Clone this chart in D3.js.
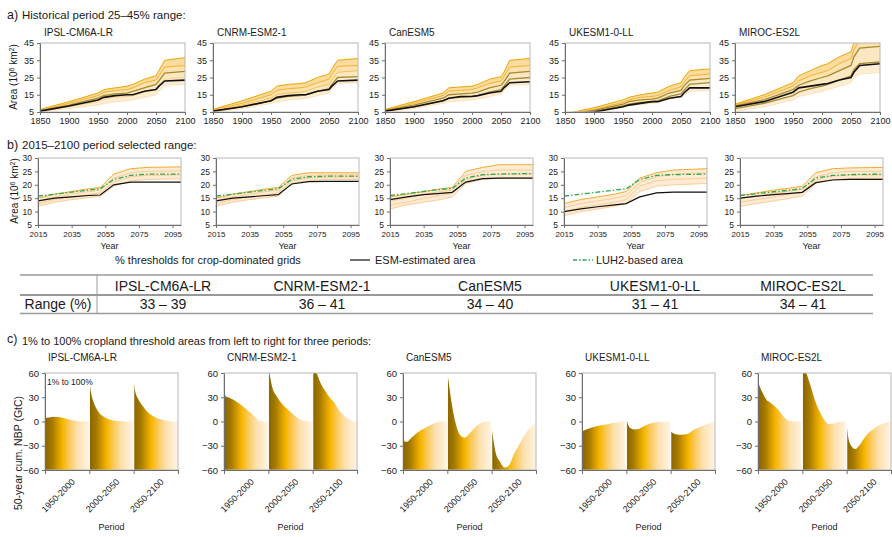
<!DOCTYPE html>
<html>
<head>
<meta charset="utf-8">
<script src="https://cdn.jsdelivr.net/npm/d3@7"></script>
<style>
body { margin: 0; background: #fff; }
text { font-family: "Liberation Sans", Arial, sans-serif; }
</style>
</head>
<body>
<svg id="chart" width="892" height="537"></svg>
<script>
var models = ["IPSL-CM6A-LR", "CNRM-ESM2-1", "CanESM5", "UKESM1-0-LL", "MIROC-ES2L"]
var rangeLabels = ["33 – 39", "36 – 41", "34 – 40", "31 – 41", "34 – 41"]
var selectedRanges = [[33, 39], [36, 41], [34, 40], [31, 41], [34, 41]]

// a) historical period, thresholds 25-45 %
var histYears = [1850, 1900, 1950, 1960, 1980, 2000, 2010, 2030, 2050, 2055, 2065, 2100]
var histYearTicks = [1850, 1900, 1950, 2000, 2050, 2100]
var histAreaTicks = [5, 15, 25, 35, 45]
var histThresholds = [25, 30, 35, 40, 45]
var histEsmArea = [
    [5.5, 8.5, 12, 13.5, 14.5, 15, 15, 17, 18, 20, 23, 23.5],
    [5.5, 8, 11.5, 13.5, 14.5, 15, 15, 17, 18, 20, 23, 23.5],
    [5.5, 8, 11.5, 13, 14, 14, 14.5, 16, 17, 19, 22, 22.5],
    [3, 5, 8, 9, 10, 11, 11, 13, 14, 16, 19, 19],
    [8, 11, 16.5, 19, 20, 21, 21.5, 23.5, 25, 28, 32, 33]
]
var histIpsl = [
    [6.5, 11, 16, 18, 19, 20, 21, 24, 26, 29, 35, 36.5],
    [6, 10, 14.5, 16.5, 17.5, 18, 19, 22, 23.5, 26, 31, 32],
    [5.8, 9, 13, 14.5, 15.5, 16, 17, 19, 21, 23, 27.5, 28.5],
    [5.5, 8, 11, 12.5, 13.5, 14, 14.5, 16.5, 18, 20, 24, 25],
    [5, 7, 9, 10, 11, 11.5, 12, 13.5, 15, 17, 20.5, 21]
]
var histCnrm = [
    [6.5, 11.5, 17, 20, 21, 21.5, 22, 25, 27, 30, 35, 36],
    [6, 10, 15, 17.5, 18.5, 19, 19.5, 22, 24, 27, 31.5, 32],
    [5.8, 9, 13, 15, 16, 16.5, 17, 19.5, 21, 23.5, 28, 29],
    [5.5, 8, 11.5, 13, 14, 14.5, 15, 17, 18.5, 21, 25, 25.5],
    [5, 7, 10, 11, 12, 12.5, 13, 14.5, 16, 18, 21.5, 22]
]
var histCanesm = [
    [6.5, 11, 16, 19, 19.5, 20, 21, 24, 25.5, 28, 35, 36],
    [6, 10, 14.5, 17, 17.5, 18, 19, 21.5, 23, 25.5, 31, 32],
    [5.8, 9, 13, 15, 15.5, 16, 16.5, 19, 20.5, 22.5, 27.5, 28.5],
    [5.5, 8, 11.5, 13, 13.5, 14, 14.5, 16.5, 18, 20, 24, 25],
    [5, 7, 10, 11, 11.5, 12, 12.5, 14, 15.5, 17, 20.5, 21]
]
var histUkesm = [
    [4, 7.5, 12, 13.5, 15, 16, 16.5, 20, 22, 25, 29, 30],
    [3.8, 6.5, 10.5, 12, 13.5, 14, 14.5, 17.5, 19.5, 22, 26, 27],
    [3.5, 6, 9.5, 11, 12, 12.5, 13, 16, 17.5, 20, 23.5, 24.5],
    [3.2, 5.5, 8.5, 9.5, 10.5, 11, 11.5, 14, 15.5, 17.5, 21, 22],
    [3, 5, 7.5, 8.5, 9.5, 10, 10.5, 12.5, 13.5, 15, 17, 17.5]
]
var histMiroc = [
    [9.5, 15, 22, 26, 29, 32, 33, 37, 40, 45, 50, 52],
    [9, 13.5, 20, 23, 26, 28, 29, 33, 36, 41, 47, 48],
    [8.5, 12, 18, 20.5, 23, 25, 26, 29, 32, 37, 42, 43],
    [7, 10, 14.5, 16.5, 18.5, 20, 21, 23.5, 26, 29.5, 33, 34],
    [5.5, 8, 12, 14, 15.5, 17, 18, 20, 22, 25, 27, 28]
]
var histThresholdArea = [histIpsl, histCnrm, histCanesm, histUkesm, histMiroc]

// b) 2015-2100, thresholds of the selected range (lowest threshold first)
var futureYears = [2015, 2025, 2035, 2045, 2052, 2060, 2070, 2080, 2100]
var futureYearTicks = [2015, 2035, 2055, 2075, 2095]
var futureAreaTicks = [5, 10, 15, 20, 25, 30]
var futureEsmArea = [
    [14, 15, 15.5, 16, 16.2, 20, 21, 21, 21],
    [14, 15, 15.5, 16, 16.3, 20.3, 21.2, 21.3, 21.3],
    [14.5, 15.5, 16.3, 16.8, 17.2, 21, 22.3, 22.5, 22.5],
    [10, 11, 11.8, 12.5, 13, 15.5, 17, 17.3, 17.3],
    [15, 15.8, 16.3, 16.8, 17.2, 20.8, 21.8, 22, 22]
]
var futureLuh2Area = [
    [15.8, 16.5, 17.3, 18, 18.5, 22, 23.5, 24, 24],
    [15.8, 16.5, 17.3, 18, 18.5, 22, 23, 23.2, 23.2],
    [16, 16.7, 17.5, 18.3, 18.6, 22.5, 23.8, 24, 24.2],
    [15.8, 16.5, 17.3, 18, 18.5, 22, 23.5, 23.8, 24],
    [16, 16.7, 17.4, 18, 18.6, 22.5, 23.5, 23.8, 24]
]
var futureIpsl = [
    [15, 16.5, 17.5, 18.5, 19, 24, 26, 26.5, 26.7],
    [14, 15.5, 16.5, 17.5, 18, 22.5, 24.5, 25, 25.2],
    [13, 14.5, 15.5, 16.3, 17, 21, 23, 23.5, 23.7],
    [12, 13.5, 14.5, 15.2, 15.8, 19.5, 21.5, 22, 22.2]
]
var futureCnrm = [
    [15, 16.5, 17.5, 18.5, 19, 23.5, 24.5, 24.5, 24.5],
    [14, 15.5, 16.5, 17.5, 18, 22.5, 23.5, 23.7, 23.8],
    [13, 14.5, 15.5, 16.3, 17, 21.5, 22.5, 22.8, 23],
    [12, 13.5, 14.5, 15.2, 15.8, 20.5, 21.5, 22, 22]
]
var futureCanesm = [
    [15.5, 16.5, 17.5, 18.5, 19, 25, 26.5, 27.5, 27.5],
    [14, 15, 16.5, 17.5, 18, 23.5, 25, 25.5, 25.5],
    [12.5, 13.5, 15, 16, 16.8, 22, 23.5, 24, 24],
    [11, 12.5, 13.5, 14.5, 15.5, 20.5, 22, 22.5, 22.5]
]
var futureUkesm = [
    [13, 14.5, 15.5, 16.5, 17.5, 22.5, 24.5, 25.5, 26],
    [11.5, 13, 14, 15, 16, 21, 23, 24, 24.5],
    [10, 11.5, 12.5, 13.5, 14.5, 19.5, 21.5, 22, 22.5],
    [8.5, 10, 11, 12, 13, 17.5, 19.5, 20, 20.5]
]
var futureMiroc = [
    [16, 17, 18, 18.8, 19.5, 24.5, 26, 26.3, 26.5],
    [14.8, 15.8, 16.8, 17.7, 18.3, 23, 24.5, 25, 25],
    [13.5, 14.5, 15.5, 16.5, 17.2, 21.8, 23.3, 23.6, 23.7],
    [12, 13, 14, 15, 15.8, 20.5, 22, 22.3, 22.5]
]
var futureRangeArea = [futureIpsl, futureCnrm, futureCanesm, futureUkesm, futureMiroc]

// c) 50-year cumulative NBP for cropland thresholds 1..100 %
var periods = ["1950-2000", "2000-2050", "2050-2100"]
var cropThresholds = [1, 5, 10, 20, 30, 40, 50, 60, 70, 80, 90, 100]
var nbpTicks = [60, 30, 0, -30, -60]
var nbpIpsl = [
    [4, 4.5, 5, 6, 5.5, 4.5, 3.2, 2, 1, 0.3, 0, 0],
    [50, 35, 25, 13, 7, 4, 2, 1, 0.5, 0, 0, 0],
    [50, 36, 29, 20, 13, 8, 5, 3, 1.5, 0.5, 0, -0.5]
]
var nbpCnrm = [
    [42, 31, 30, 27.5, 24, 20, 15.5, 11, 6, 1, 0, 0],
    [70, 55, 42, 31, 23, 17, 12, 7, 3, 0.5, 0, 0],
    [75, 68, 60, 46, 37, 29, 23, 14, 8, 3.5, 1, 0]
]
var nbpCanesm = [
    [-12, -25, -25, -20, -15, -11, -8, -5, -2.5, -0.5, 0, 0],
    [60, 45, 25, -3, -17, -20, -15, -9, -4, -1, 0, 0],
    [-8, -23, -39, -50, -57, -54, -41, -31, -21, -12, -6, 0]
]
var nbpUkesm = [
    [-12, -11, -10, -8, -6.5, -5, -4, -3, -2, -1, 0, 0],
    [4, -4, -8, -10, -9, -6, -3.5, -2, -1, -0.5, 0, 0],
    [-12, -14, -15.5, -16.5, -16, -15, -11, -8.5, -6, -4, -2, -0.5]
]
var nbpMiroc = [
    [50, 43, 37, 27, 23, 18, 12, 5, 1, 0, 0, -0.5],
    [75, 68, 60, 43, 25, 12, 2, -3, -2.5, -1, 0, 0],
    [-4, -21, -29, -34, -29, -21, -14, -10, -6, -3, -1, 0]
]
var cumulativeNbp = [nbpIpsl, nbpCnrm, nbpCanesm, nbpUkesm, nbpMiroc]

var layout = {
    historical: {lefts: [40, 213, 385, 565, 735], titleY: 36, width: 145, top: 43, bottom: 112},
    future: {lefts: [38, 216, 390, 564, 740], width: 143, top: 158, bottom: 225},
    nbp: {lefts: [45, 224, 403, 582, 758], titleY: 361, width: 133, top: 373, bottom: 470},
    table: {left: 20, right: 873, divider: 97, top: 275, middle: 295, bottom: 313.5, columns: [163, 322, 490, 655, 803]}
}

var svg = d3.select("#chart")
var defs = svg.append("defs")

function addText(container, x, y, text, size, anchor) {
    return container.append("text")
        .attr("x", x)
        .attr("y", y)
        .attr("font-size", size)
        .attr("text-anchor", anchor || "start")
        .attr("fill", "#1a1a1a")
        .text(text)
}

function addClip(id, width, height) {
    defs.append("clipPath").attr("id", id)
        .append("rect").attr("width", width).attr("height", height)
    return "url(#" + id + ")"
}

function drawFrame(g, width, height) {
    g.append("rect")
        .attr("width", width)
        .attr("height", height)
        .attr("fill", "none")
        .attr("stroke", "#b8b8b8")
        .attr("stroke-width", 1)
}

function styleAxis(axisGroup, fontSize) {
    axisGroup.select(".domain").attr("stroke", "#6f6f6f")
    axisGroup.selectAll(".tick line").attr("stroke", "#6f6f6f")
    axisGroup.selectAll("text").attr("fill", "#222").attr("font-size", fontSize).attr("font-family", null)
}

function rotatedLabel(container, x, y, size) {
    return container.append("text")
        .attr("transform", "translate(" + x + "," + y + ") rotate(-90)")
        .attr("text-anchor", "middle")
        .attr("font-size", size)
        .attr("fill", "#1a1a1a")
}

function areaLabel(container, x, y) {
    var label = rotatedLabel(container, x, y, 10)
    label.append("tspan").text("Area (10")
    label.append("tspan").attr("baseline-shift", "super").attr("font-size", 7).text("6")
    label.append("tspan").text(" km")
    label.append("tspan").attr("baseline-shift", "super").attr("font-size", 7).text("2")
    label.append("tspan").text(")")
}

var thresholdColor = d3.scaleLinear().domain([25, 35, 45]).range(["#f0a400", "#f8c25a", "#fde2bb"])

function HistoricalPanelBuilder(index) {
    var box = layout.historical
    var height = box.bottom - box.top
    var range = selectedRanges[index]
    var series = histThresholdArea[index]
    var x = d3.scaleLinear().domain([1850, 2100]).range([0, box.width])
    var y = d3.scaleLinear().domain([5, 45]).range([height, 0])

    function xAt(d, i) { return x(histYears[i]) }

    function inSelectedRange(threshold) {
        return threshold >= range[0] && threshold <= range[1]
    }

    this.draw = function (container) {
        var g = container.append("g").attr("transform", "translate(" + box.lefts[index] + "," + box.top + ")")
        var plot = g.append("g").attr("clip-path", addClip("histClip" + index, box.width, height))
        var line = d3.line().x(xAt).y(function (d) { return y(d) })

        series.slice(0, -1).forEach(function (values, i) {
            var band = d3.area().x(xAt)
                .y0(function (d, j) { return y(series[i + 1][j]) })
                .y1(function (d) { return y(d) })
            plot.append("path").attr("d", band(values))
                .attr("fill", thresholdColor(histThresholds[i]))
                .attr("opacity", 0.38)
        })

        series.forEach(function (values, i) {
            var t = histThresholds[i]
            plot.append("path").attr("d", line(values))
                .attr("fill", "none")
                .attr("stroke", inSelectedRange(t) ? "#a58a34" : thresholdColor(t))
                .attr("stroke-width", inSelectedRange(t) ? 1.3 : 1)
        })

        plot.append("path").attr("d", line(histEsmArea[index]))
            .attr("fill", "none").attr("stroke", "#111").attr("stroke-width", 1.6)

        drawFrame(g, box.width, height)
        styleAxis(g.append("g").call(d3.axisLeft(y).tickValues(histAreaTicks).tickSize(3).tickSizeOuter(0)), 9)
        styleAxis(g.append("g").attr("transform", "translate(0," + height + ")")
            .call(d3.axisBottom(x).tickValues(histYearTicks).tickFormat(d3.format("d")).tickSize(3).tickSizeOuter(0)), 9)

        addText(container, box.lefts[index] + 4, box.titleY, models[index], 10)
    }
}

function FuturePanelBuilder(index) {
    var box = layout.future
    var height = box.bottom - box.top
    var series = futureRangeArea[index]
    var x = d3.scaleLinear().domain([2015, 2100]).range([0, box.width])
    var y = d3.scaleLinear().domain([5, 30]).range([height, 0])

    function xAt(d, i) { return x(futureYears[i]) }

    this.draw = function (container) {
        var g = container.append("g").attr("transform", "translate(" + box.lefts[index] + "," + box.top + ")")
        var plot = g.append("g").attr("clip-path", addClip("futureClip" + index, box.width, height))
        var line = d3.line().x(xAt).y(function (d) { return y(d) })
        var band = d3.area().x(xAt)
            .y0(function (d, j) { return y(series[series.length - 1][j]) })
            .y1(function (d) { return y(d) })

        plot.append("path").attr("d", band(series[0])).attr("fill", "#fde4c6").attr("opacity", 0.75)

        series.forEach(function (values, i) {
            plot.append("path").attr("d", line(values))
                .attr("fill", "none")
                .attr("stroke", i === 0 ? "#f4ab2e" : "#fbcd98")
                .attr("stroke-width", 1)
        })

        plot.append("path").attr("d", line(futureLuh2Area[index]))
            .attr("fill", "none").attr("stroke", "#2aa84e").attr("stroke-width", 1.3)
            .attr("stroke-dasharray", "5,2,1.5,2")
        plot.append("path").attr("d", line(futureEsmArea[index]))
            .attr("fill", "none").attr("stroke", "#111").attr("stroke-width", 1.2)

        drawFrame(g, box.width, height)
        styleAxis(g.append("g").call(d3.axisLeft(y).tickValues(futureAreaTicks).tickSize(3).tickSizeOuter(0)), 8.5)
        styleAxis(g.append("g").attr("transform", "translate(0," + height + ")")
            .call(d3.axisBottom(x).tickValues(futureYearTicks).tickFormat(d3.format("d")).tickSize(3).tickSizeOuter(0)), 8)

        addText(g, box.width / 2, height + 24, "Year", 9, "middle")
    }
}

var cropGradient = defs.append("linearGradient").attr("id", "cropGradient")
cropGradient.selectAll("stop")
    .data([[0, "#8a6400"], [0.16, "#a47a00"], [0.3, "#d99d00"], [0.4, "#f6b600"], [0.52, "#fac64c"], [0.72, "#fde0ad"], [1, "#fff4e6"]])
    .enter().append("stop")
    .attr("offset", function (d) { return d[0] })
    .attr("stop-color", function (d) { return d[1] })

function NbpPanelBuilder(index) {
    var box = layout.nbp
    var height = box.bottom - box.top
    var segment = box.width / periods.length
    var periodScale = d3.scaleBand().domain(periods).range([0, box.width])
    var y = d3.scaleLinear().domain([-60, 60]).range([height, 0])

    this.draw = function (container) {
        var g = container.append("g").attr("transform", "translate(" + box.lefts[index] + "," + box.top + ")")
        var plot = g.append("g").attr("clip-path", addClip("nbpClip" + index, box.width, height))

        periods.forEach(function (period, p) {
            var x = d3.scaleLinear().domain([1, 100]).range([periodScale(period), periodScale(period) + segment])
            var area = d3.area()
                .x(function (d, i) { return x(cropThresholds[i]) })
                .y0(y(-60))
                .y1(function (d) { return y(d) })
                .curve(d3.curveMonotoneX)
            plot.append("path").attr("d", area(cumulativeNbp[index][p])).attr("fill", "url(#cropGradient)")
        })

        periods.slice(1).forEach(function (period) {
            plot.append("line")
                .attr("x1", periodScale(period)).attr("x2", periodScale(period))
                .attr("y1", 0).attr("y2", height)
                .attr("stroke", "#fff").attr("stroke-width", 1.2)
        })

        drawFrame(g, box.width, height)
        styleAxis(g.append("g").call(d3.axisLeft(y).tickValues(nbpTicks).tickSize(3).tickSizeOuter(0)), 9.5)
        var bounds = d3.scaleLinear().domain([0, periods.length]).range([0, box.width])
        styleAxis(g.append("g").attr("transform", "translate(0," + height + ")")
            .call(d3.axisBottom(bounds).tickValues(d3.range(periods.length + 1)).tickFormat("").tickSize(4).tickSizeOuter(0)), 9)

        periods.forEach(function (period) {
            var cx = periodScale(period) + periodScale.bandwidth() / 2 + 4
            g.append("text")
                .attr("transform", "translate(" + cx + "," + (height + 8) + ") rotate(-45)")
                .attr("text-anchor", "end")
                .attr("dy", "0.7em")
                .attr("font-size", 9)
                .attr("fill", "#1a1a1a")
                .text(period)
        })

        addText(g, box.width / 2, height + 60, "Period", 9, "middle")
        addText(container, box.lefts[index] + 3, box.titleY, models[index], 10)
        if (index === 0) {
            addText(g, 2, 12, "1% to 100%", 8.5)
        }
    }
}

// section a
addText(svg, 7, 19, "a)", 12.5)
addText(svg, 22, 19, "Historical period 25–45% range:", 11.5)
areaLabel(svg, 17, 77)
models.forEach(function (m, i) { new HistoricalPanelBuilder(i).draw(svg) })

// section b
addText(svg, 7, 149, "b)", 12.5)
addText(svg, 22, 149, "2015–2100 period selected range:", 11.5)
areaLabel(svg, 18, 191)
models.forEach(function (m, i) { new FuturePanelBuilder(i).draw(svg) })

// legend for b
addText(svg, 115, 264, "% thresholds for crop-dominated grids", 11)
svg.append("line").attr("x1", 350).attr("x2", 370).attr("y1", 260).attr("y2", 260).attr("stroke", "#111").attr("stroke-width", 1.2)
addText(svg, 375, 264, "ESM-estimated area", 11)
svg.append("line").attr("x1", 573).attr("x2", 593).attr("y1", 260).attr("y2", 260)
    .attr("stroke", "#2aa84e").attr("stroke-width", 1.3).attr("stroke-dasharray", "4,2,1.5,2")
addText(svg, 596, 264, "LUH2-based area", 11)

// range table
var table = layout.table
var tableGroup = svg.append("g")
tableGroup.selectAll("line.row")
    .data([table.top, table.middle, table.bottom])
    .enter().append("line")
    .attr("x1", table.left).attr("x2", table.right)
    .attr("y1", function (d) { return d }).attr("y2", function (d) { return d })
    .attr("stroke", function (d, i) { return i === 1 ? "#777" : "#9a9a9a" })
    .attr("stroke-width", 1.3)
tableGroup.append("line")
    .attr("x1", table.divider).attr("x2", table.divider)
    .attr("y1", table.top).attr("y2", table.bottom)
    .attr("stroke", "#9a9a9a").attr("stroke-width", 1)
addText(tableGroup, 58, 309, "Range (%)", 14, "middle")
models.forEach(function (m, i) {
    addText(tableGroup, table.columns[i], 291, m, 14, "middle")
    addText(tableGroup, table.columns[i], 309, rangeLabels[i], 14, "middle")
})

// section c
addText(svg, 7, 343, "c)", 12.5)
addText(svg, 22, 345, "1% to 100% cropland threshold areas from left to right for three periods:", 11)
rotatedLabel(svg, 22, 453, 10.5).text("50-year cum. NBP (GtC)")
models.forEach(function (m, i) { new NbpPanelBuilder(i).draw(svg) })
</script>
</body>
</html>
